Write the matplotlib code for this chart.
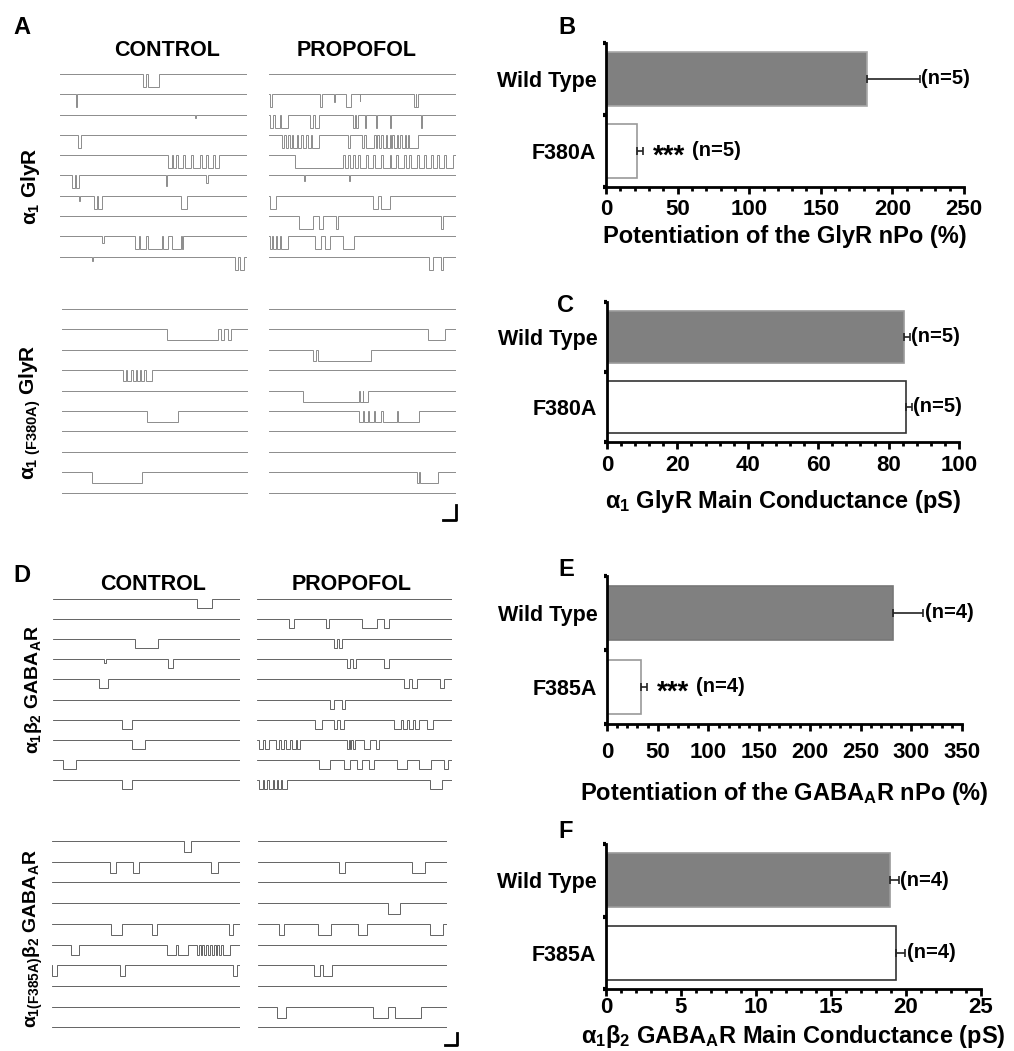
import numpy as np
import matplotlib
matplotlib.use('Agg')
import matplotlib.pyplot as plt
from matplotlib.ticker import MultipleLocator

plt.rcParams['font.family'] = ['Liberation Sans', 'DejaVu Sans']
plt.rcParams['font.weight'] = 'bold'
plt.rcParams['mathtext.fontset'] = 'custom'
plt.rcParams['mathtext.rm'] = 'Liberation Sans:bold'
plt.rcParams['mathtext.it'] = 'Liberation Sans:bold'
plt.rcParams['mathtext.bf'] = 'Liberation Sans:bold'

W, H = 1014, 1051

# ---- bar data ----
groups = ['Wild Type', 'F380A']
groups_gaba = ['Wild Type', 'F385A']
b_vals = [182, 21.5]
b_err = [37, 4.3]
c_vals = [84.4, 85.0]
c_err = [1.7, 1.6]
e_vals = [282, 33.5]
e_err = [30, 6]
f_vals = [18.9, 19.3]
f_err = [0.6, 0.65]
b_notes = ['(n=5)', '(n=5)']
c_notes = ['(n=5)', '(n=5)']
e_notes = ['(n=4)', '(n=4)']
f_notes = ['(n=4)', '(n=4)']
b_stars = ['', '***']
c_stars = ['', '']
e_stars = ['', '***']
f_stars = ['', '']

# ---- single channel openings: (start, end[, relative amplitude]) as fraction of sweep ----
a_ctrl = [
    [(0.446, 0.459), (0.468, 0.532)],
    [(0.084, 0.092)],
    [(0.72, 0.728, 0.3)],
    [(0.098, 0.112)],
    [(0.58, 0.60), (0.605, 0.62), (0.63, 0.66), (0.67, 0.70), (0.71, 0.75),
     (0.76, 0.78), (0.79, 0.82), (0.83, 0.848)],
    [(0.0625, 0.08), (0.085, 0.104), (0.565, 0.571, 0.8), (0.783, 0.789, 0.6)],
    [(0.102, 0.108, 0.4), (0.182, 0.20), (0.205, 0.223), (0.648, 0.679)],
    [],
    [(0.227, 0.233, 0.5), (0.402, 0.42), (0.43, 0.46), (0.47, 0.545),
     (0.55, 0.58), (0.60, 0.648), (0.652, 0.66)],
    [(0.173, 0.178, 0.3), (0.9375, 0.95), (0.96, 0.982)],
]
a_prop = [
    [],
    [(0.005, 0.015), (0.275, 0.281), (0.345, 0.351, 0.6), (0.414, 0.436),
     (0.484, 0.489, 0.5), (0.777, 0.785), (0.788, 0.795)],
    [(0.007, 0.02), (0.03, 0.06), (0.065, 0.10), (0.218, 0.235), (0.245, 0.268),
     (0.45, 0.46), (0.465, 0.477), (0.512, 0.52), (0.571, 0.578),
     (0.646, 0.655), (0.812, 0.82)],
    [(0.07, 0.08), (0.09, 0.10), (0.11, 0.125), (0.13, 0.15), (0.155, 0.17),
     (0.18, 0.20), (0.21, 0.225), (0.23, 0.27), (0.42, 0.432),
     (0.495, 0.51), (0.52, 0.56), (0.57, 0.58), (0.59, 0.60), (0.61, 0.625),
     (0.63, 0.645), (0.65, 0.66), (0.67, 0.685), (0.69, 0.70), (0.71, 0.725),
     (0.73, 0.745), (0.75, 0.798)],
    [(0.1375, 0.395), (0.405, 0.425), (0.435, 0.45), (0.46, 0.475), (0.485, 0.52),
     (0.53, 0.555), (0.565, 0.60), (0.61, 0.645), (0.655, 0.68), (0.69, 0.72),
     (0.73, 0.75), (0.76, 0.79), (0.80, 0.83), (0.84, 0.865), (0.875, 0.90),
     (0.91, 0.935), (0.945, 0.985)],
    [(0.188, 0.193, 0.4), (0.43, 0.435, 0.4)],
    [(0.007, 0.04), (0.557, 0.585), (0.60, 0.645)],
    [(0.16, 0.235), (0.268, 0.29), (0.357, 0.37), (0.918, 0.932)],
    [(0.004, 0.015), (0.02, 0.04), (0.045, 0.06), (0.065, 0.10), (0.245, 0.28),
     (0.30, 0.325), (0.396, 0.453)],
    [(0.857, 0.878), (0.92, 0.93)],
]
a_mut_ctrl = [
    [],
    [(0.5625, 0.84), (0.855, 0.87), (0.89, 0.91)],
    [],
    [(0.33, 0.345), (0.35, 0.37), (0.38, 0.40), (0.405, 0.42), (0.425, 0.44),
     (0.45, 0.482)],
    [],
    [(0.459, 0.625)],
    [],
    [],
    [(0.16, 0.43)],
    [],
]
a_mut_prop = [
    [],
    [(0.852, 0.94)],
    [(0.236, 0.25), (0.26, 0.548)],
    [],
    [(0.182, 0.48), (0.485, 0.50), (0.505, 0.53)],
    [(0.482, 0.50), (0.51, 0.53), (0.535, 0.56), (0.565, 0.60), (0.61, 0.685),
     (0.69, 0.80)],
    [],
    [],
    [(0.79, 0.80), (0.805, 0.905)],
    [],
]
d_ctrl = [
    [(0.768, 0.848)],
    [],
    [(0.4375, 0.5625)],
    [(0.275, 0.281, 0.4), (0.616, 0.643)],
    [(0.246, 0.295)],
    [],
    [(0.371, 0.42)],
    [(0.425, 0.49)],
    [(0.054, 0.125)],
    [(0.371, 0.42)],
]
d_prop = [
    [],
    [(0.162, 0.188), (0.356, 0.368), (0.538, 0.615), (0.65, 0.675)],
    [(0.393, 0.41), (0.419, 0.436)],
    [(0.462, 0.479), (0.494, 0.51), (0.65, 0.675)],
    [(0.752, 0.78), (0.795, 0.82), (0.94, 0.957)],
    [(0.376, 0.393), (0.436, 0.453)],
    [(0.299, 0.333), (0.393, 0.41), (0.428, 0.445), (0.701, 0.74), (0.75, 0.77),
     (0.78, 0.80), (0.81, 0.83), (0.872, 0.90)],
    [(0.01, 0.03), (0.04, 0.06), (0.095, 0.115), (0.125, 0.14), (0.15, 0.17),
     (0.18, 0.20), (0.205, 0.22), (0.462, 0.47), (0.475, 0.483), (0.49, 0.50),
     (0.547, 0.58), (0.612, 0.624)],
    [(0.316, 0.376), (0.444, 0.479), (0.513, 0.538), (0.573, 0.60), (0.718, 0.77),
     (0.83, 0.89), (0.957, 0.98)],
    [(0.01, 0.03), (0.035, 0.05), (0.06, 0.08), (0.085, 0.10), (0.11, 0.125),
     (0.13, 0.154), (0.889, 0.949)],
]
d_mut_ctrl = [
    [(0.703, 0.738)],
    [(0.306, 0.342), (0.43, 0.465), (0.848, 0.885)],
    [],
    [],
    [(0.315, 0.372), (0.531, 0.561), (0.94, 0.965)],
    [(0.10, 0.142), (0.61, 0.66), (0.67, 0.725), (0.77, 0.78), (0.79, 0.80),
     (0.81, 0.82), (0.83, 0.84), (0.85, 0.86), (0.87, 0.88), (0.89, 0.90),
     (0.91, 0.947)],
    [(0.0, 0.027), (0.36, 0.39), (0.965, 0.986)],
    [],
    [],
    [],
]
d_mut_prop = [
    [],
    [(0.43, 0.46), (0.814, 0.885)],
    [],
    [(0.69, 0.752)],
    [(0.112, 0.136), (0.317, 0.384), (0.531, 0.575), (0.912, 0.979)],
    [],
    [(0.296, 0.327), (0.342, 0.389)],
    [],
    [(0.101, 0.147), (0.606, 0.69), (0.726, 0.862)],
    [],
]

fig = plt.figure(figsize=(W / 100, H / 100), dpi=100)


def rect(x0, y0, x1, y1):
    return [x0 / W, 1 - y1 / H, (x1 - x0) / W, (y1 - y0) / H]


def sweep(events, amp):
    xs, ys = [0.0], [0.0]
    for ev in events:
        s, e = ev[0], ev[1]
        a = ev[2] if len(ev) > 2 else 1.0
        xs += [s, s, e, e]
        ys += [0, -a * amp, -a * amp, 0]
    xs.append(1.0)
    ys.append(0.0)
    return np.array(xs), np.array(ys)


def trace_block(x0, x1, y0, S, rows, amp, color, lw=0.7):
    top = 0.5
    bot = 9 + amp + 0.4
    ax = fig.add_axes(rect(x0, y0 - top * S, x1, y0 + bot * S))
    for i, evs in enumerate(rows):
        xs, ys = sweep(evs, amp)
        ax.plot(xs, ys - i, color=color, lw=lw, solid_joinstyle='miter')
    ax.set_xlim(0, 1)
    ax.set_ylim(-bot, top)
    ax.axis('off')
    return ax


gl = '#8c8c8c'
dk = '#4a4a4a'
trace_block(60, 247, 74, 20.3, a_ctrl, 0.64, gl)
trace_block(269, 456, 74, 20.3, a_prop, 0.64, gl)
trace_block(62, 248, 309, 20.4, a_mut_ctrl, 0.54, gl)
ax_sa = trace_block(269, 456, 309, 20.4, a_mut_prop, 0.54, gl)
trace_block(53, 240, 599, 20.1, d_ctrl, 0.45, dk, 0.6)
trace_block(257, 452, 599, 20.1, d_prop, 0.45, dk, 0.6)
trace_block(52, 240, 841, 20.7, d_mut_ctrl, 0.53, dk, 0.6)
ax_sd = trace_block(258, 447, 841, 20.7, d_mut_prop, 0.53, dk, 0.6)

# scale bars
ax_sa.plot([0.93, 1.0, 1.0], [-10.35, -10.35, -9.6], color='black', lw=2, clip_on=False)
ax_sd.plot([0.99, 1.055, 1.055], [-9.86, -9.86, -9.28], color='black', lw=2, clip_on=False)


def ftext(x, y, s, size=14, **kw):
    fig.text(x / W, 1 - y / H, s, fontsize=size, fontweight='bold',
             ha=kw.pop('ha', 'center'), va=kw.pop('va', 'center'), **kw)


ftext(22, 28, 'A', 17)
ftext(567, 28, 'B', 17)
ftext(566, 305, 'C', 17)
ftext(22, 575, 'D', 17)
ftext(566, 570, 'E', 17)
ftext(566, 832, 'F', 17)
ftext(167, 51, 'CONTROL', 15.5)
ftext(357, 51, 'PROPOFOL', 15.5)
ftext(153, 585, 'CONTROL', 15.5)
ftext(352, 585, 'PROPOFOL', 15.5)
ftext(30, 186, r'$\alpha_1$ GlyR', 15, rotation=90)
ftext(30, 412, r'$\alpha_{1\ \mathrm{(F380A)}}$ GlyR', 15, rotation=90)
ftext(33, 689, r'$\alpha_1\beta_2$ GABA$_\mathrm{A}$R', 14, rotation=90)
ftext(33, 938, r'$\alpha_{1\mathrm{(F385A)}}\beta_2$ GABA$_\mathrm{A}$R', 14, rotation=90)


def bar_panel(box, labels, vals, errs, xmax, major, edges, notes, stars, xlabel,
              tickpad, labelpad):
    ax = fig.add_axes(rect(*box))
    ypos = [1, 0]
    cols = ['#808080', 'white']
    for y, v, e, c, ec, note, st in zip(ypos, vals, errs, cols, edges, notes, stars):
        ax.barh(y, v, height=0.74, color=c, edgecolor=ec, linewidth=1.2, zorder=2)
        ax.errorbar(v, y, xerr=[[0], [e]], fmt='none', ecolor='#222222',
                    elinewidth=1.2, capsize=3, capthick=1.2, zorder=3)
        off = 1
        if st:
            ax.annotate(st, (v + e, y), xytext=(7, -4), textcoords='offset points',
                        va='center', ha='left', fontsize=20, fontweight='bold')
            off = 35
        ax.annotate(note, (v + e, y), xytext=(off, 0), textcoords='offset points',
                    va='center', ha='left', fontsize=14.5, fontweight='bold')
    ax.set_xlim(0, xmax)
    ax.set_ylim(-0.5, 1.5)
    ax.set_yticks(ypos)
    ax.set_yticklabels(labels, fontsize=15.5, fontweight='bold')
    ax.set_yticks([-0.5, 0.5, 1.5], minor=True)
    ax.tick_params(axis='y', which='major', length=0, pad=7)
    ax.tick_params(axis='y', which='minor', length=2.5, width=3)
    ax.xaxis.set_major_locator(MultipleLocator(major))
    ax.xaxis.set_minor_locator(MultipleLocator(major / 5))
    ax.tick_params(axis='x', which='major', length=5, width=2, labelsize=16, pad=tickpad)
    ax.tick_params(axis='x', which='minor', length=3, width=2)
    for lab in ax.get_xticklabels():
        lab.set_fontweight('bold')
    for sp in ['top', 'right']:
        ax.spines[sp].set_visible(False)
    for sp in ['left', 'bottom']:
        ax.spines[sp].set_linewidth(2)
    ax.set_xlabel(xlabel, fontsize=17, fontweight='bold', labelpad=labelpad)
    return ax


bar_panel((606, 43, 964, 187), groups, b_vals, b_err, 250, 50, ['#a8a8a8', '#9a9a9a'],
          b_notes, b_stars, 'Potentiation of the GlyR nPo (%)', 3.5, 3.5)
bar_panel((607, 302, 959, 442), groups, c_vals, c_err, 100, 20, ['#9a9a9a', '#333333'],
          c_notes, c_stars, r'$\alpha_1$ GlyR Main Conductance (pS)', 4.3, 9)
bar_panel((607, 576, 962, 724), groups_gaba, e_vals, e_err, 350, 50, ['#777777', '#9a9a9a'],
          e_notes, e_stars, r'Potentiation of the GABA$_\mathrm{A}$R nPo (%)', 8, 12.5)
bar_panel((606, 844, 981, 989), groups_gaba, f_vals, f_err, 25, 5, ['#9a9a9a', '#333333'],
          f_notes, f_stars, r'$\alpha_1\beta_2$ GABA$_\mathrm{A}$R Main Conductance (pS)', 1, 3.5)

fig.savefig('out.png', dpi=100)
